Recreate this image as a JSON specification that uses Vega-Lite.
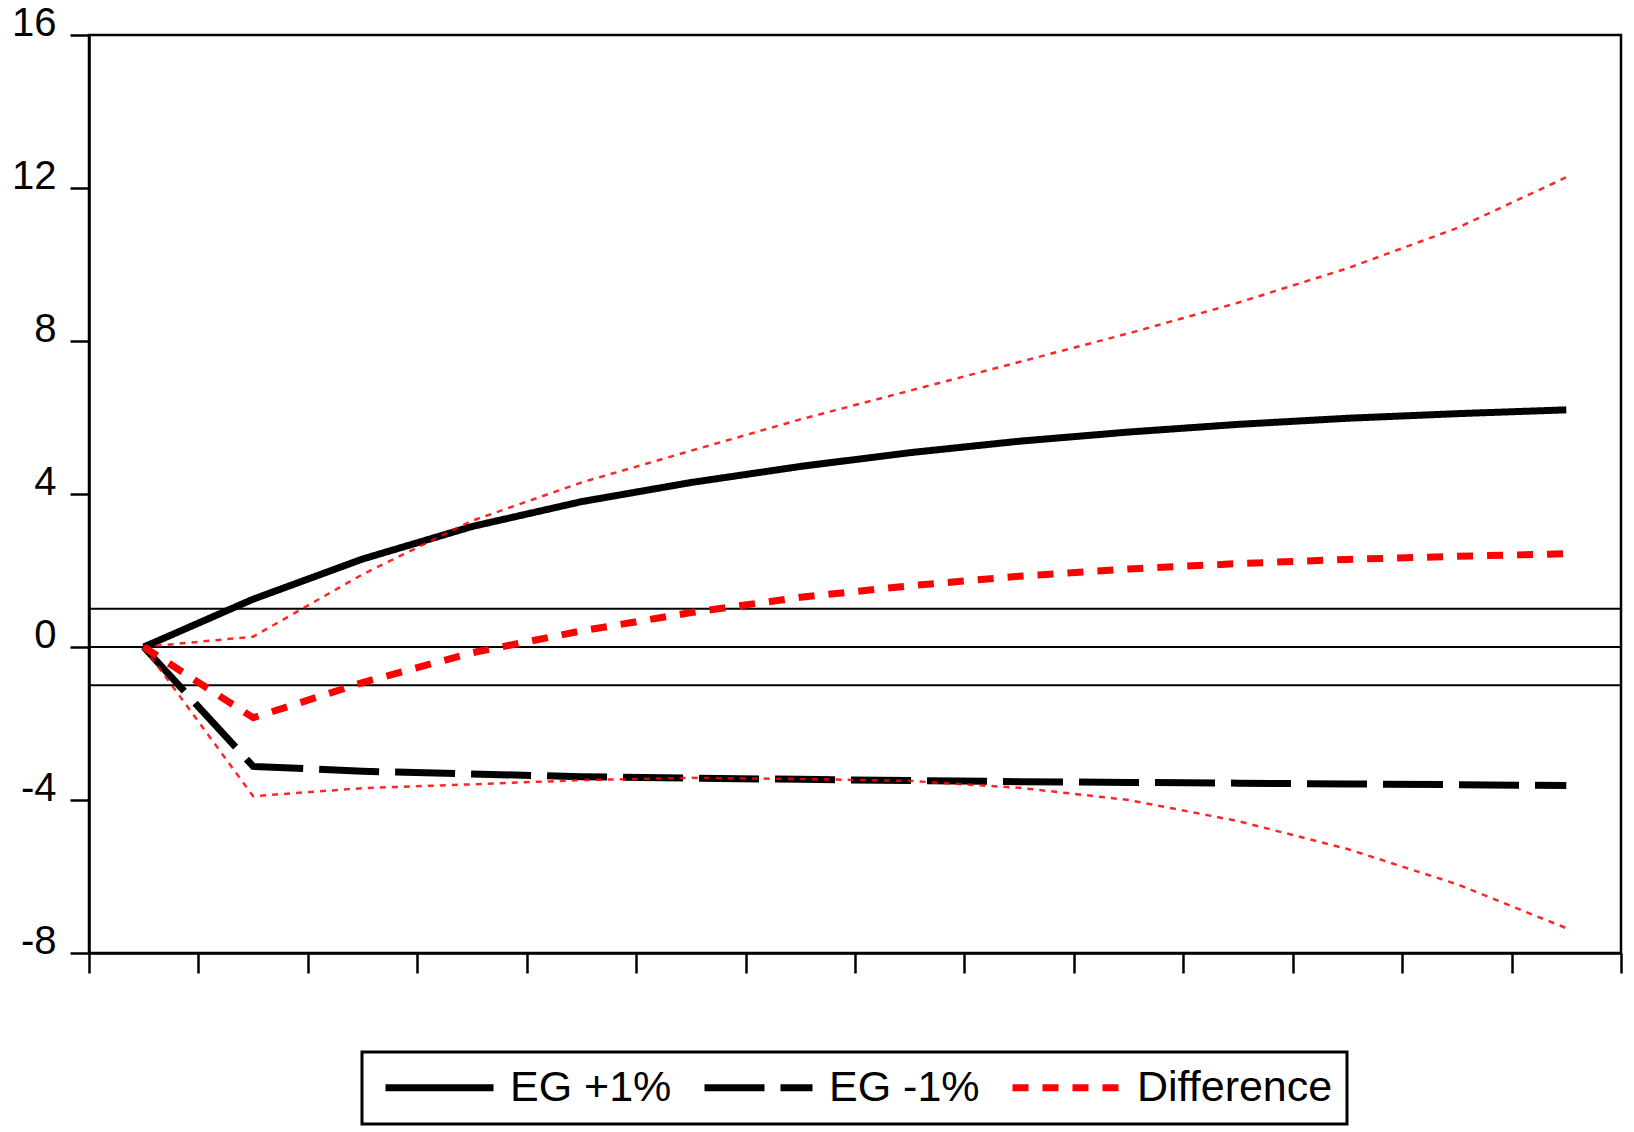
{
  "$schema": "https://vega.github.io/schema/vega-lite/v6.json",
  "autosize": "none",
  "width": 1532,
  "height": 918,
  "padding": {"left": 89, "top": 35, "right": 13, "bottom": 179},
  "background": "white",
  "datasets": {
    "series": [
      {"period": 1, "series": "EG +1%", "value": 0},
      {"period": 2, "series": "EG +1%", "value": 1.25},
      {"period": 3, "series": "EG +1%", "value": 2.3},
      {"period": 4, "series": "EG +1%", "value": 3.15},
      {"period": 5, "series": "EG +1%", "value": 3.8},
      {"period": 6, "series": "EG +1%", "value": 4.3},
      {"period": 7, "series": "EG +1%", "value": 4.72},
      {"period": 8, "series": "EG +1%", "value": 5.08},
      {"period": 9, "series": "EG +1%", "value": 5.38},
      {"period": 10, "series": "EG +1%", "value": 5.62},
      {"period": 11, "series": "EG +1%", "value": 5.82},
      {"period": 12, "series": "EG +1%", "value": 5.98},
      {"period": 13, "series": "EG +1%", "value": 6.1},
      {"period": 14, "series": "EG +1%", "value": 6.2},
      {"period": 1, "series": "EG -1%", "value": 0},
      {"period": 2, "series": "EG -1%", "value": -3.12},
      {"period": 3, "series": "EG -1%", "value": -3.25},
      {"period": 4, "series": "EG -1%", "value": -3.32},
      {"period": 5, "series": "EG -1%", "value": -3.39},
      {"period": 6, "series": "EG -1%", "value": -3.43},
      {"period": 7, "series": "EG -1%", "value": -3.46},
      {"period": 8, "series": "EG -1%", "value": -3.49},
      {"period": 9, "series": "EG -1%", "value": -3.52},
      {"period": 10, "series": "EG -1%", "value": -3.54},
      {"period": 11, "series": "EG -1%", "value": -3.56},
      {"period": 12, "series": "EG -1%", "value": -3.58},
      {"period": 13, "series": "EG -1%", "value": -3.6},
      {"period": 14, "series": "EG -1%", "value": -3.62},
      {"period": 1, "series": "Difference", "value": 0},
      {"period": 2, "series": "Difference", "value": -1.85},
      {"period": 3, "series": "Difference", "value": -0.93},
      {"period": 4, "series": "Difference", "value": -0.15},
      {"period": 5, "series": "Difference", "value": 0.42},
      {"period": 6, "series": "Difference", "value": 0.9},
      {"period": 7, "series": "Difference", "value": 1.3},
      {"period": 8, "series": "Difference", "value": 1.6},
      {"period": 9, "series": "Difference", "value": 1.85},
      {"period": 10, "series": "Difference", "value": 2.04},
      {"period": 11, "series": "Difference", "value": 2.18},
      {"period": 12, "series": "Difference", "value": 2.29},
      {"period": 13, "series": "Difference", "value": 2.37},
      {"period": 14, "series": "Difference", "value": 2.44}
    ],
    "bands": [
      {"period": 1, "band": "upper", "value": 0},
      {"period": 2, "band": "upper", "value": 0.27},
      {"period": 3, "band": "upper", "value": 1.9},
      {"period": 4, "band": "upper", "value": 3.3},
      {"period": 5, "band": "upper", "value": 4.3},
      {"period": 6, "band": "upper", "value": 5.13},
      {"period": 7, "band": "upper", "value": 5.95},
      {"period": 8, "band": "upper", "value": 6.7},
      {"period": 9, "band": "upper", "value": 7.45},
      {"period": 10, "band": "upper", "value": 8.2},
      {"period": 11, "band": "upper", "value": 9.0},
      {"period": 12, "band": "upper", "value": 9.9},
      {"period": 13, "band": "upper", "value": 10.95},
      {"period": 14, "band": "upper", "value": 12.28},
      {"period": 1, "band": "lower", "value": 0},
      {"period": 2, "band": "lower", "value": -3.9},
      {"period": 3, "band": "lower", "value": -3.69},
      {"period": 4, "band": "lower", "value": -3.59},
      {"period": 5, "band": "lower", "value": -3.48},
      {"period": 6, "band": "lower", "value": -3.42},
      {"period": 7, "band": "lower", "value": -3.45},
      {"period": 8, "band": "lower", "value": -3.5},
      {"period": 9, "band": "lower", "value": -3.68},
      {"period": 10, "band": "lower", "value": -4.0},
      {"period": 11, "band": "lower", "value": -4.55},
      {"period": 12, "band": "lower", "value": -5.28},
      {"period": 13, "band": "lower", "value": -6.2},
      {"period": 14, "band": "lower", "value": -7.35}
    ],
    "refs": [
      {"ref": 1},
      {"ref": 0},
      {"ref": -1}
    ]
  },
  "config": {
    "view": {"stroke": "black", "strokeWidth": 2.5},
    "font": "Liberation Sans",
    "axis": {
      "domainColor": "black",
      "domainWidth": 2.5,
      "tickColor": "black",
      "tickWidth": 2.5,
      "grid": false,
      "labelColor": "black",
      "labelFont": "Liberation Sans",
      "title": null
    },
    "legend": {
      "orient": "none",
      "legendX": 273,
      "legendY": 1017,
      "direction": "horizontal",
      "symbolType": "M-1,0H8",
      "symbolSize": 576,
      "labelFont": "Liberation Sans",
      "labelFontSize": 43,
      "labelColor": "black",
      "labelLimit": 0,
      "labelOffset": 91,
      "columnPadding": 18,
      "padding": 14,
      "strokeColor": "black",
      "fillColor": "white",
      "title": null
    }
  },
  "layer": [
    {
      "data": {"name": "refs"},
      "mark": {"type": "rule", "color": "black", "strokeWidth": 2},
      "encoding": {
        "y": {"field": "ref", "type": "quantitative", "scale": {"domain": [-8, 16], "nice": false, "zero": false}}
      }
    },
    {
      "data": {"name": "series"},
      "mark": {"type": "line", "strokeCap": "butt"},
      "encoding": {
        "x": {
          "field": "period",
          "type": "quantitative",
          "scale": {"domain": [0.5, 14.5], "nice": false, "zero": false},
          "axis": {
            "values": [0.5, 1.5, 2.5, 3.5, 4.5, 5.5, 6.5, 7.5, 8.5, 9.5, 10.5, 11.5, 12.5, 13.5, 14.5],
            "labels": false,
            "tickSize": 20
          }
        },
        "y": {
          "field": "value",
          "type": "quantitative",
          "scale": {"domain": [-8, 16], "nice": false, "zero": false},
          "axis": {
            "values": [-8, -4, 0, 4, 8, 12, 16],
            "tickSize": 19,
            "labelFontSize": 40,
            "labelPadding": 14,
            "labelBaseline": "alphabetic",
            "labelExpr": "datum.value < 0 ? '-' + abs(datum.value) : '' + datum.value"
          }
        },
        "color": {
          "field": "series",
          "type": "nominal",
          "scale": {"domain": ["EG +1%", "EG -1%", "Difference"], "range": ["#000000", "#000000", "#ff0000"]},
          "legend": {
            "title": null,
            "encode": {
              "legend": {"update": {"strokeWidth": {"value": 3}}},
              "symbols": {
                "update": {
                  "strokeWidth": {"signal": "datum.value === 'Difference' ? 11 : 12"},
                  "strokeDash": {"signal": "datum.value === 'EG -1%' ? [73, 6] : (datum.value === 'Difference' ? [23, 8] : [1, 0])"}
                }
              }
            }
          }
        },
        "strokeDash": {
          "field": "series",
          "type": "nominal",
          "scale": {"domain": ["EG +1%", "EG -1%", "Difference"], "range": [[1, 0], [60, 16], [16, 14]]},
          "legend": null
        },
        "strokeWidth": {
          "field": "series",
          "type": "nominal",
          "scale": {"domain": ["EG +1%", "EG -1%", "Difference"], "range": [7, 7, 9]},
          "legend": null
        }
      }
    },
    {
      "data": {"name": "bands"},
      "mark": {"type": "line", "color": "#ff0000", "strokeWidth": 2.5, "strokeDash": [6, 6], "opacity": 0.85},
      "encoding": {
        "x": {"field": "period", "type": "quantitative"},
        "y": {"field": "value", "type": "quantitative"},
        "detail": {"field": "band", "type": "nominal"}
      }
    }
  ]
}
